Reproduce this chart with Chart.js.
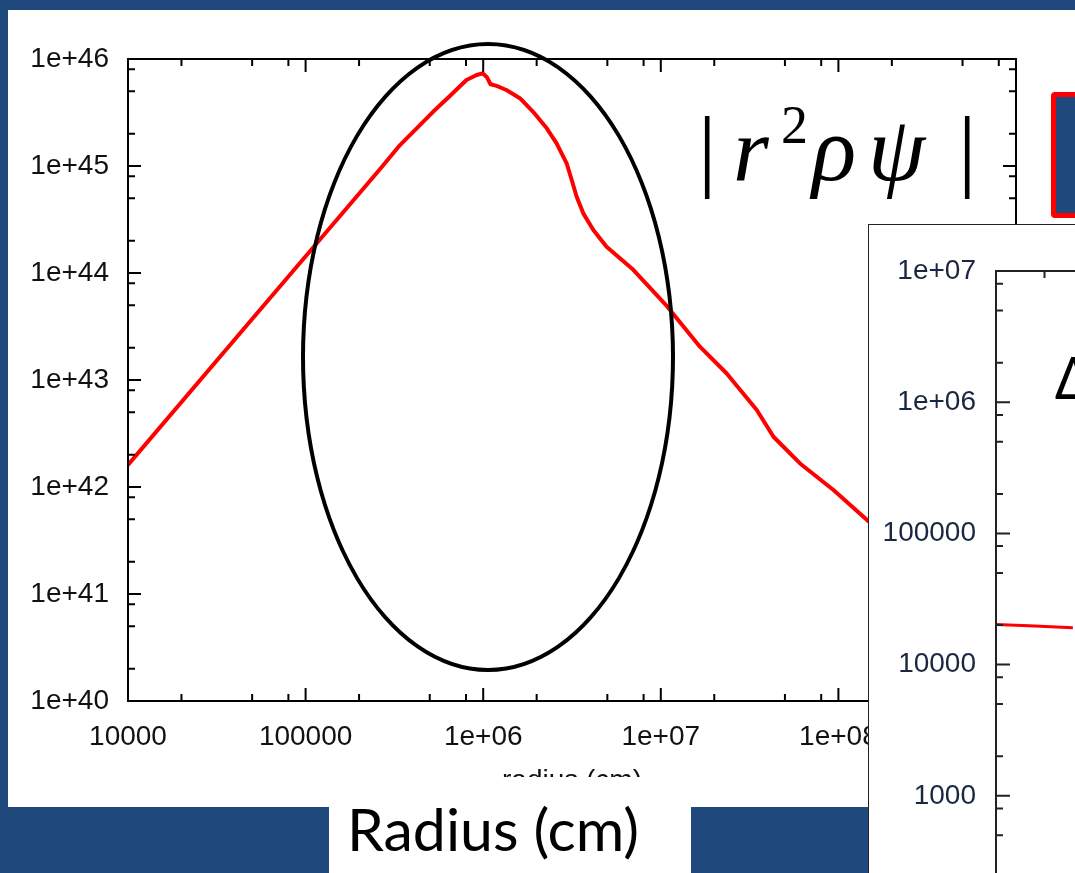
<!DOCTYPE html>
<html>
<head>
<meta charset="utf-8">
<script src="https://cdn.jsdelivr.net/npm/chart.js@4.4.1/dist/chart.umd.min.js"></script>
<style>
  html, body { margin: 0; padding: 0; width: 1075px; height: 873px; overflow: hidden; background: #1f497d; }
  #slide { position: relative; width: 1075px; height: 873px; overflow: hidden; }
  #panel { position: absolute; left: 8px; top: 10px; width: 1067px; height: 797px; background: #fff; }
  #labelBox { position: absolute; left: 329px; top: 807px; width: 362px; height: 66px; background: #fff; }
  #mainWrap { position: absolute; left: 0; top: 0; width: 1075px; height: 777px; overflow: hidden; }
  #mainWrap canvas { position: absolute; left: 0; top: 0; }
  #ring { position: absolute; left: 301px; top: 42px; width: 374px; height: 630px; box-sizing: border-box;
          border: 4px solid #000; border-radius: 50%; }
  .f { position: absolute; font-family: "Liberation Serif", "Times New Roman", Times, serif; font-size: 92px; line-height: 1; color: #000; }
  .it { font-style: italic; }
  #redBox { position: absolute; left: 1051px; top: 92px; width: 40px; height: 126px; box-sizing: border-box;
            border: 5px solid #ff0000; border-radius: 4px; background: #1f497d; }
  #inset { position: absolute; left: 868px; top: 224px; width: 900px; height: 700px; background: #fff;
           border-left: 1.5px solid #222; border-top: 1.5px solid #222; }
  #inset canvas { position: absolute; left: 0; top: 0; }
  #delta { position: absolute; left: 1055px; top: 348px; font-family: "Noto Sans", sans-serif; font-size: 58px; line-height: 1; color: #000; }
  #xlab { position: absolute; left: 347px; top: 799px; font-family: Lato, "Open Sans", sans-serif; font-size: 59px;
          line-height: 1; color: #000; white-space: nowrap; }
</style>
</head>
<body>
<div id="slide">
  <div id="panel"></div>
  <div id="labelBox"></div>
  <div id="mainWrap"><canvas id="mainChart" width="1075" height="830"></canvas></div>
  <div id="ring"></div>
  <div class="f" style="left:698px; top:103px;">|</div>
  <div class="f it" style="left:733px; top:103px;">r</div>
  <div class="f" style="left:781px; top:98px; font-size:54px;">2</div>
  <div class="f it" style="left:812px; top:103px;">ρ</div>
  <div class="f it" style="left:868px; top:103px;">ψ</div>
  <div class="f" style="left:958px; top:103px;">|</div>
  <div id="redBox"></div>
  <div id="inset"><canvas id="insetChart" width="831" height="762"></canvas></div>
  <div id="delta">Δ</div>
  <div id="xlab">Radius (cm)</div>
</div>
<script>
// main plot: |r^2 rho psi| against radius (cm)
const radius = [1.00e4, 4.43e4, 2.62e5, 3.40e5, 4.22e5, 5.22e5, 6.49e5, 8.05e5, 9.18e5, 9.93e5,
  1.05e6, 1.10e6, 1.19e6, 1.35e6, 1.61e6, 1.91e6, 2.28e6, 2.59e6, 2.95e6, 3.15e6, 3.36e6, 3.66e6,
  4.17e6, 4.95e6, 7.00e6, 1.08e7, 1.66e7, 2.35e7, 3.47e7, 4.31e7, 6.08e7, 9.38e7, 1.45e8, 2.22e8];
const r2RhoPsi = [1.61e42, 2.93e43, 9.31e44, 1.57e45, 2.25e45, 3.21e45, 4.51e45, 6.37e45, 7.08e45, 7.35e45,
  6.74e45, 5.81e45, 5.60e45, 5.13e45, 4.30e45, 3.21e45, 2.25e45, 1.63e45, 1.06e45, 7.40e44, 5.16e44, 3.61e44,
  2.52e44, 1.76e44, 1.07e44, 4.92e43, 2.05e43, 1.15e43, 5.25e42, 2.95e42, 1.66e42, 9.38e41, 4.92e41, 2.57e41];

// inset plot, only its left edge is visible
const insetRadius = [1.0e4, 1.6e4, 3.0e4];
const insetValue = [2.02e4, 1.98e4, 1.91e4];

// axis ranges (powers of ten) and minor tick multiples
const mainX = [4, 9];
const mainY = [40, 46];
const insetX = [4, 8];
const insetY = [2, 7];
const minorSteps = [2, 5, 8];

function gnuLabel(v) {
  const e = Math.round(Math.log10(v));
  if (e < 6) return String(Math.pow(10, e));
  return '1e+' + String(e).padStart(2, '0');
}

function decadeTicks(scale) {
  const lo = Math.round(Math.log10(scale.min));
  const hi = Math.round(Math.log10(scale.max));
  const t = [];
  for (let e = lo; e <= hi; e++) t.push({ value: Math.pow(10, e) });
  scale.ticks = t;
}

// gnuplot style frame with inward ticks on all four sides
const frameTicks = {
  id: 'frameTicks',
  afterDraw(chart, args, o) {
    const { ctx, chartArea: a } = chart;
    const x = chart.scales.x, y = chart.scales.y;
    ctx.save();
    ctx.strokeStyle = o.color;
    ctx.lineWidth = o.width;
    ctx.strokeRect(a.left, a.top, a.right - a.left, a.bottom - a.top);
    ctx.beginPath();
    const each = (scale, fn) => {
      const lo = Math.floor(Math.log10(scale.min)), hi = Math.ceil(Math.log10(scale.max));
      for (let e = lo; e <= hi; e++) {
        [1].concat(minorSteps).forEach(m => {
          const v = m * Math.pow(10, e);
          if (v < scale.min * 0.999 || v > scale.max * 1.001) return;
          fn(scale.getPixelForValue(v), m === 1 ? o.major : o.minor);
        });
      }
    };
    each(x, (p, len) => {
      ctx.moveTo(p, a.bottom); ctx.lineTo(p, a.bottom - len);
      ctx.moveTo(p, a.top); ctx.lineTo(p, a.top + len);
    });
    each(y, (p, len) => {
      ctx.moveTo(a.left, p); ctx.lineTo(a.left + len, p);
      ctx.moveTo(a.right, p); ctx.lineTo(a.right - len, p);
    });
    ctx.stroke();
    ctx.restore();
  }
};

const tickFont = { family: '"Liberation Sans", Arial, sans-serif', size: 28 };

new Chart(document.getElementById('mainChart'), {
  type: 'scatter',
  data: {
    datasets: [{
      data: radius.map((r, i) => ({ x: r, y: r2RhoPsi[i] })),
      showLine: true,
      borderColor: '#ff0000',
      borderWidth: 4,
      borderJoinStyle: 'round',
      pointRadius: 0,
      tension: 0
    }]
  },
  options: {
    responsive: false,
    animation: false,
    layout: { padding: { left: 0, top: 59, right: 59, bottom: 0 } },
    plugins: {
      legend: { display: false },
      tooltip: { enabled: false },
      frameTicks: { color: '#000', width: 2, major: 13, minor: 7 }
    },
    scales: {
      x: {
        type: 'logarithmic',
        min: Math.pow(10, mainX[0]), max: Math.pow(10, mainX[1]),
        grid: { display: false, drawTicks: false },
        border: { display: false },
        afterBuildTicks: decadeTicks,
        afterFit: s => { s.height = 129; },
        ticks: { autoSkip: false, maxRotation: 0, padding: 19, color: '#111', font: tickFont, callback: gnuLabel },
        title: { display: true, text: 'radius (cm)', color: '#111', font: tickFont, padding: { top: 0, bottom: 32 } }
      },
      y: {
        type: 'logarithmic',
        min: Math.pow(10, mainY[0]), max: Math.pow(10, mainY[1]),
        grid: { display: false, drawTicks: false },
        border: { display: false },
        afterBuildTicks: decadeTicks,
        afterFit: s => { s.width = 128; },
        ticks: { autoSkip: false, padding: 19, color: '#111', font: tickFont, callback: gnuLabel }
      }
    }
  },
  plugins: [frameTicks]
});

new Chart(document.getElementById('insetChart'), {
  type: 'scatter',
  data: {
    datasets: [{
      data: insetRadius.map((r, i) => ({ x: r, y: insetValue[i] })),
      showLine: true,
      borderColor: '#ff0000',
      borderWidth: 3,
      pointRadius: 0
    }]
  },
  options: {
    responsive: false,
    animation: false,
    layout: { padding: { left: 0, top: 46, right: 40, bottom: 0 } },
    plugins: {
      legend: { display: false },
      tooltip: { enabled: false },
      frameTicks: { color: '#222', width: 2, major: 14, minor: 7 }
    },
    scales: {
      x: {
        type: 'logarithmic',
        min: Math.pow(10, insetX[0]), max: Math.pow(10, insetX[1]),
        grid: { display: false, drawTicks: false },
        border: { display: false },
        afterBuildTicks: decadeTicks,
        afterFit: s => { s.height = 60; },
        ticks: { autoSkip: false, maxRotation: 0, padding: 20, color: '#1a2740', font: tickFont, callback: gnuLabel }
      },
      y: {
        type: 'logarithmic',
        min: Math.pow(10, insetY[0]), max: Math.pow(10, insetY[1]),
        grid: { display: false, drawTicks: false },
        border: { display: false },
        afterBuildTicks: decadeTicks,
        afterFit: s => { s.width = 127; },
        ticks: { autoSkip: false, padding: 20, color: '#1a2740', font: tickFont, callback: gnuLabel }
      }
    }
  },
  plugins: [frameTicks]
});
</script>
</body>
</html>
